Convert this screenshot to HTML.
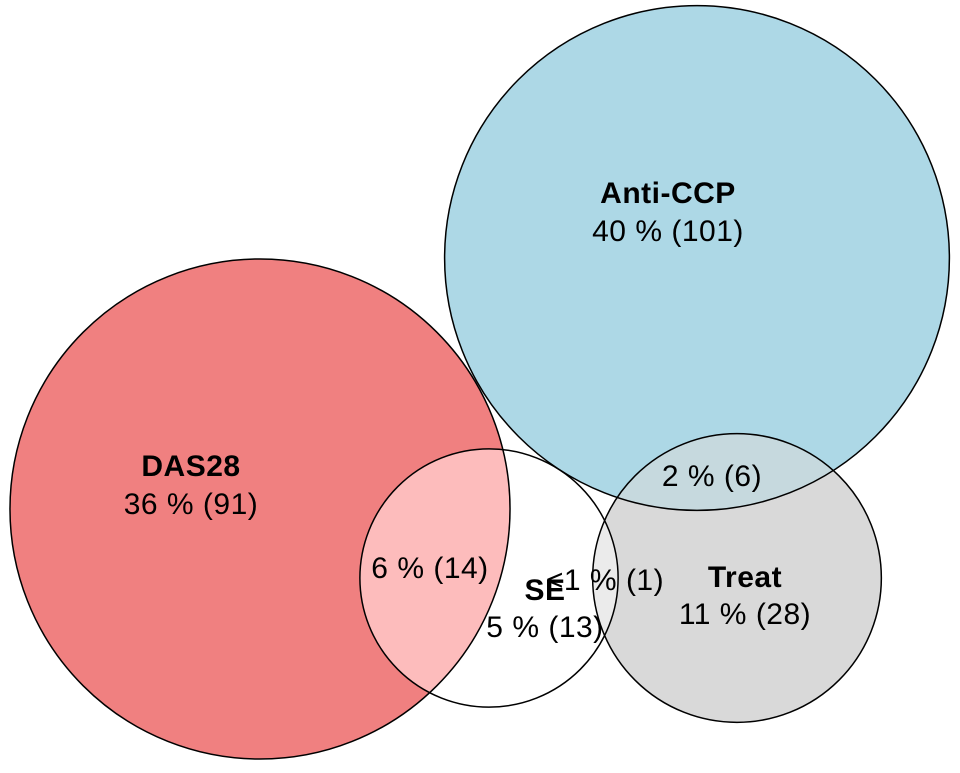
<!DOCTYPE html>
<html><head><meta charset="utf-8"><style>
html,body{margin:0;padding:0;background:#fff;}
svg text{font-family:"Liberation Sans",Arial,sans-serif;font-size:30px;letter-spacing:0.5px;fill:#000;}
</style></head><body>
<svg id="venn" width="960" height="768" viewBox="0 0 960 768" xmlns="http://www.w3.org/2000/svg"></svg>
<script>
const setNames = ["DAS28","Anti-CCP","SE","Treat"];
const setTotals = [105,107,28,35];
const setColors = ["#f08080","#add8e6","#ffffff","#d9d9d9"];
const regionLabels = ["36 % (91)","40 % (101)","5 % (13)","11 % (28)","6 % (14)","2 % (6)","<1 % (1)"];
const centers = [[260,509],[697,258],[489,578],[737,578]];
const k = 24.4;
const NS="http://www.w3.org/2000/svg";
const svg=document.getElementById('venn');
const r = setTotals.map(t=>k*Math.sqrt(t));
function mk(tag,attrs){const e=document.createElementNS(NS,tag);for(const a in attrs)e.setAttribute(a,attrs[a]);return e;}
const defs=mk('defs',{});svg.appendChild(defs);
centers.forEach((c,i)=>{const cp=mk('clipPath',{id:'clip'+i});cp.appendChild(mk('circle',{cx:c[0],cy:c[1],r:r[i]}));defs.appendChild(cp);});
centers.forEach((c,i)=>{
  const e=mk('circle',{cx:c[0],cy:c[1],r:r[i],fill:setColors[i]});
  
  
  svg.appendChild(e);
});
const overlaps=[[0,2,"#fdbcbc"],[1,3,"#c6d9de"],[2,3,"#ebebeb"]];
overlaps.forEach(o=>{
  const g=mk('g',{'clip-path':'url(#clip'+o[1]+')'});
  const e=mk('circle',{cx:centers[o[0]][0],cy:centers[o[0]][1],r:r[o[0]],fill:o[2]});
  
  
  g.appendChild(e);svg.appendChild(g);
});
centers.forEach((c,i)=>{
  const e=mk('circle',{cx:c[0],cy:c[1],r:r[i],fill:'none',stroke:'#000','stroke-width':1.5});
  
  
  svg.appendChild(e);
});
const namePos=[[191,476],[668,203],[545,600],[745,587]];
const labelPos=[[191,514],[668,241],[545,637],[745,624],[430,578],[712,486],[605,590]];
regionLabels.forEach((t,i)=>{
  const e=mk('text',{x:labelPos[i][0],y:labelPos[i][1],'text-anchor':'middle'});
  e.textContent=t;
  
  
  svg.appendChild(e);
});
setNames.forEach((t,i)=>{
  const e=mk('text',{x:namePos[i][0],y:namePos[i][1],'text-anchor':'middle','font-weight':'bold'});
  e.textContent=t;
  
  
  svg.appendChild(e);
});
</script>
</body></html>
